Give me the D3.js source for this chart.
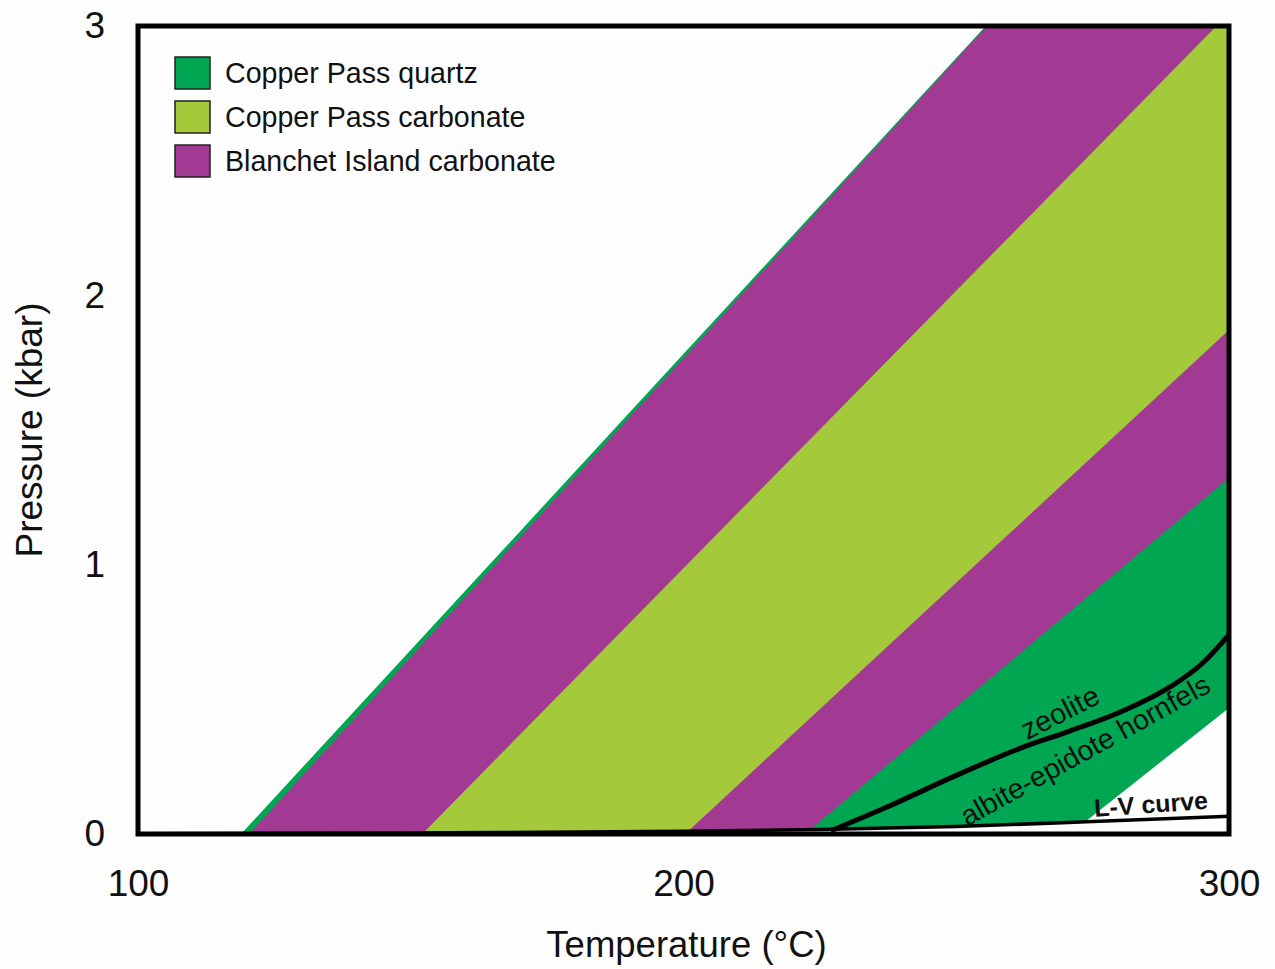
<!DOCTYPE html>
<html>
<head>
<meta charset="utf-8">
<script src="https://cdn.jsdelivr.net/npm/d3@7"></script>
<style>
  html, body { margin: 0; padding: 0; background: #fefefe; }
  svg { display: block; font-family: "Liberation Sans", Arial, sans-serif; }
</style>
</head>
<body>
<svg id="chart" width="1275" height="969"></svg>
<script>
// Isochore bounds of each fluid-inclusion band, as two (T °C, P kbar) points on each line
const quartzLow      = [[118.9, 0], [255.4, 3.0]];
const quartzHigh     = [[270.8, 0], [300.0, 0.468]];
const blanchetLow    = [[120.4, 0], [255.6, 3.0]];
const blanchetHigh   = [[222.3, 0], [300.0, 1.322]];
const carbonateLow   = [[152.1, 0], [297.7, 3.0]];
const carbonateHigh  = [[200.3, 0], [300.0, 1.871]];

// Liquid–vapour curve of water
const lvCurve = [[100, 0.001], [150, 0.004], [200, 0.010], [225, 0.017], [250, 0.028], [275, 0.046], [300, 0.066]];

// Zeolite / albite-epidote hornfels facies boundary
const faciesBoundary = [[227.4, 0.015], [237.3, 0.100], [249.4, 0.212], [261.7, 0.318], [270.9, 0.383],
                        [280.0, 0.452], [289.2, 0.546], [295.2, 0.635], [300.0, 0.740]];

const tempTicks = [100, 200, 300];
const pressTicks = [0, 1, 2, 3];

const legendItems = ["Copper Pass quartz", "Copper Pass carbonate", "Blanchet Island carbonate"];
const legendColors = ["#00a651", "#a4c93b", "#a23a94"];

// ---- layout ----
const svg = d3.select("#chart");
const box = { left: 138, right: 1229, top: 26, bottom: 834 };

const x = d3.scaleLinear().domain([100, 300]).range([box.left, box.right]);
const y = d3.scaleLinear().domain([0, 3]).range([box.bottom, box.top]);

svg.append("rect").attr("width", 1275).attr("height", 969).attr("fill", "#fefefe");

svg.append("clipPath").attr("id", "plotClip")
  .append("rect").attr("x", box.left).attr("y", box.top)
  .attr("width", box.right - box.left).attr("height", box.bottom - box.top);

const plot = svg.append("g").attr("clip-path", "url(#plotClip)");

// Temperature on a straight isochore at a given pressure
function tempAt(line, p) {
  const [[t0, p0], [t1, p1]] = line;
  return t0 + (p - p0) * (t1 - t0) / (p1 - p0);
}

// Band between two isochores, extended past the plot and clipped
function bandPath(lo, hi) {
  const pTop = 4, pBot = -0.2;
  const pts = [
    [tempAt(lo, pBot), pBot], [tempAt(lo, pTop), pTop],
    [tempAt(hi, pTop), pTop], [tempAt(hi, pBot), pBot]
  ];
  return d3.line().x(d => x(d[0])).y(d => y(d[1]))(pts) + "Z";
}

const bands = [
  { lo: quartzLow, hi: quartzHigh, color: legendColors[0] },
  { lo: blanchetLow, hi: blanchetHigh, color: legendColors[2] },
  { lo: carbonateLow, hi: carbonateHigh, color: legendColors[1] }
];

plot.selectAll("path.band").data(bands).join("path")
  .attr("class", "band")
  .attr("d", d => bandPath(d.lo, d.hi))
  .attr("fill", d => d.color);

// Vapour field below the L-V curve stays blank
plot.append("path")
  .datum(lvCurve)
  .attr("d", d3.area().x(d => x(d[0])).y0(y(-0.2)).y1(d => y(d[1])).curve(d3.curveMonotoneX))
  .attr("fill", "#fefefe");

plot.append("path")
  .datum(lvCurve)
  .attr("d", d3.line().x(d => x(d[0])).y(d => y(d[1])).curve(d3.curveMonotoneX))
  .attr("fill", "none").attr("stroke", "#000").attr("stroke-width", 3.5);

plot.append("path")
  .datum(faciesBoundary)
  .attr("d", d3.line().x(d => x(d[0])).y(d => y(d[1])).curve(d3.curveMonotoneX))
  .attr("fill", "none").attr("stroke", "#000").attr("stroke-width", 5).attr("stroke-linecap", "round");

// Field labels
const notes = [
  { text: "zeolite", t: 269.0, p: 0.452, angle: -27, weight: "normal", size: 29 },
  { text: "albite-epidote hornfels", t: 273.6, p: 0.312, angle: -29, weight: "normal", size: 28.5 },
  { text: "L-V curve", t: 285.7, p: 0.111, angle: -4, weight: "bold", size: 25 }
];
svg.selectAll("text.note").data(notes).join("text")
  .attr("class", "note")
  .attr("transform", d => `translate(${x(d.t)},${y(d.p)}) rotate(${d.angle})`)
  .attr("text-anchor", "middle")
  .attr("dy", "0.35em")
  .attr("font-size", d => d.size)
  .attr("font-weight", d => d.weight)
  .attr("fill", "#111")
  .text(d => d.text);

// Frame
svg.append("rect")
  .attr("x", box.left).attr("y", box.top)
  .attr("width", box.right - box.left).attr("height", box.bottom - box.top)
  .attr("fill", "none").attr("stroke", "#000").attr("stroke-width", 5);

// Axes
const xAxis = svg.append("g").attr("transform", `translate(0,${box.bottom})`)
  .call(d3.axisBottom(x).tickValues(tempTicks).tickSize(0).tickPadding(36).tickFormat(d3.format("d")));
const yAxis = svg.append("g").attr("transform", `translate(${box.left},0)`)
  .call(d3.axisLeft(y).tickValues(pressTicks).tickSize(0).tickPadding(33).tickFormat(d3.format("d")));
[xAxis, yAxis].forEach(a => {
  a.select(".domain").remove();
  a.selectAll("text").attr("font-size", 37).attr("fill", "#111")
    .attr("font-family", "'Liberation Sans', Arial, sans-serif");
});

svg.append("text")
  .attr("x", (box.left + box.right) / 2 + 3).attr("y", 957)
  .attr("text-anchor", "middle").attr("font-size", 36.5).attr("fill", "#111")
  .text("Temperature (°C)");

svg.append("text")
  .attr("transform", `translate(42,430) rotate(-90)`)
  .attr("text-anchor", "middle").attr("font-size", 37).attr("fill", "#111")
  .text("Pressure (kbar)");

// Legend
const legend = svg.append("g").attr("transform", "translate(175,57)");
const rows = legend.selectAll("g").data(legendItems).join("g")
  .attr("transform", (d, i) => `translate(0,${i * 44})`);
rows.append("rect")
  .attr("width", 35).attr("height", 32)
  .attr("fill", (d, i) => legendColors[i])
  .attr("stroke", "#222").attr("stroke-width", 1.5);
rows.append("text")
  .attr("x", 50).attr("y", 26)
  .attr("font-size", 28.6).attr("fill", "#111")
  .text(d => d);
</script>
</body>
</html>
